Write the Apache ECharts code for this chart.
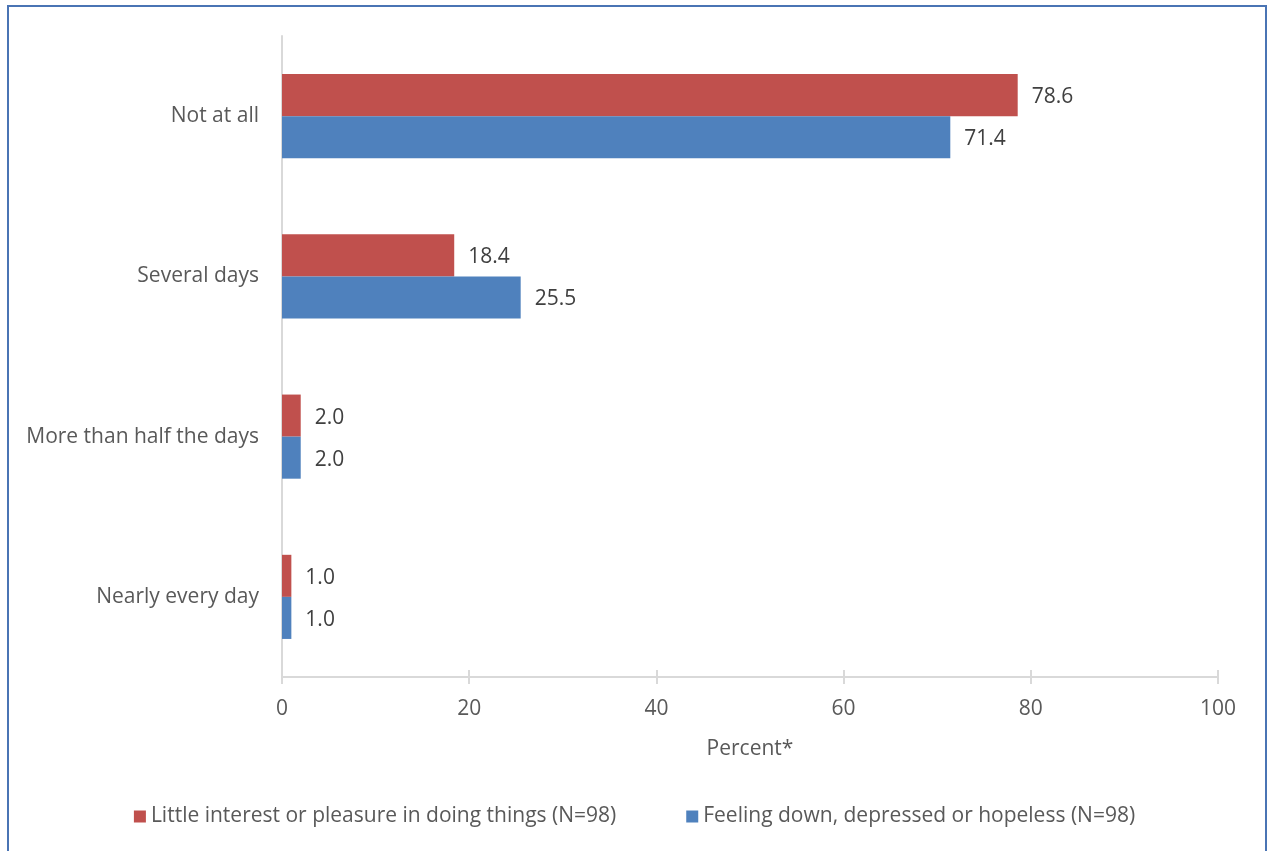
<!DOCTYPE html>
<html>
<head>
<meta charset="utf-8">
<script src="https://cdn.jsdelivr.net/npm/echarts@6/dist/echarts.min.js"></script>
<style>html,body{margin:0;padding:0;background:#fff;}#c{width:1269px;height:851px;}</style>
</head>
<body>
<div id="c"></div>
<script>
const categories = ["Not at all", "Several days", "More than half the days", "Nearly every day"];
const seriesNames = ["Little interest or pleasure in doing things (N=98)", "Feeling down, depressed or hopeless (N=98)"];
const interestValues = [78.6, 18.4, 2.0, 1.0];
const downValues = [71.4, 25.5, 2.0, 1.0];
const xTicks = [0, 20, 40, 60, 80, 100];

const FONT = '"Open Sans", "Liberation Sans", sans-serif';
const TXT = '#595959';
const FS = 21;
const chart = echarts.init(document.getElementById('c'));
const labelOpt = {show: true, position: 'right', distance: 14, offset: [0, 2], color: '#404040', fontSize: FS, fontFamily: FONT, formatter: p => p.value.toFixed(1)};
chart.setOption({
  animation: false,
  textStyle: {fontFamily: FONT},
  graphic: [{type: 'rect', shape: {x: 8, y: 6, width: 1258, height: 900}, style: {fill: 'none', stroke: '#4A74B4', lineWidth: 2}, silent: true}],
  grid: {left: 282, right: 51, top: 36, bottom: 174},
  legend: {
    bottom: 19, left: 'center', itemWidth: 12, itemHeight: 12, itemGap: 70,
    icon: 'rect', data: seriesNames,
    textStyle: {color: TXT, fontSize: FS, fontFamily: FONT}
  },
  xAxis: [{
    type: 'value', min: xTicks[0], max: xTicks[xTicks.length - 1], interval: 20,
    name: 'Percent*', nameLocation: 'middle', nameGap: 62,
    nameTextStyle: {color: TXT, fontSize: FS, fontFamily: FONT},
    axisLine: {show: true, lineStyle: {color: '#D9D9D9', width: 2}},
    axisTick: {show: true, length: 7, lineStyle: {color: '#D9D9D9', width: 2}},
    axisLabel: {color: TXT, fontSize: FS, margin: 22, fontFamily: FONT},
    splitLine: {show: false}
  }, {
    type: 'value', min: xTicks[0], max: xTicks[xTicks.length - 1], interval: 20, position: 'bottom',
    axisLine: {show: false},
    axisTick: {show: true, inside: true, length: 7, lineStyle: {color: '#D9D9D9', width: 2}},
    axisLabel: {show: false}, splitLine: {show: false}
  }],
  yAxis: {
    type: 'category', data: categories, inverse: true,
    axisLine: {show: true, lineStyle: {color: '#D9D9D9', width: 2}},
    axisTick: {show: false},
    axisLabel: {color: TXT, fontSize: FS, margin: 23, fontFamily: FONT, padding: [4, 0, 0, 0]}
  },
  series: [
    {name: seriesNames[0], type: 'bar', data: interestValues, itemStyle: {color: '#C0504D'}, barGap: '0%', barCategoryGap: '47.5%', label: labelOpt},
    {name: seriesNames[1], type: 'bar', data: downValues, itemStyle: {color: '#4F81BD'}, barGap: '0%', barCategoryGap: '47.5%', label: labelOpt}
  ]
});
</script>
</body>
</html>
